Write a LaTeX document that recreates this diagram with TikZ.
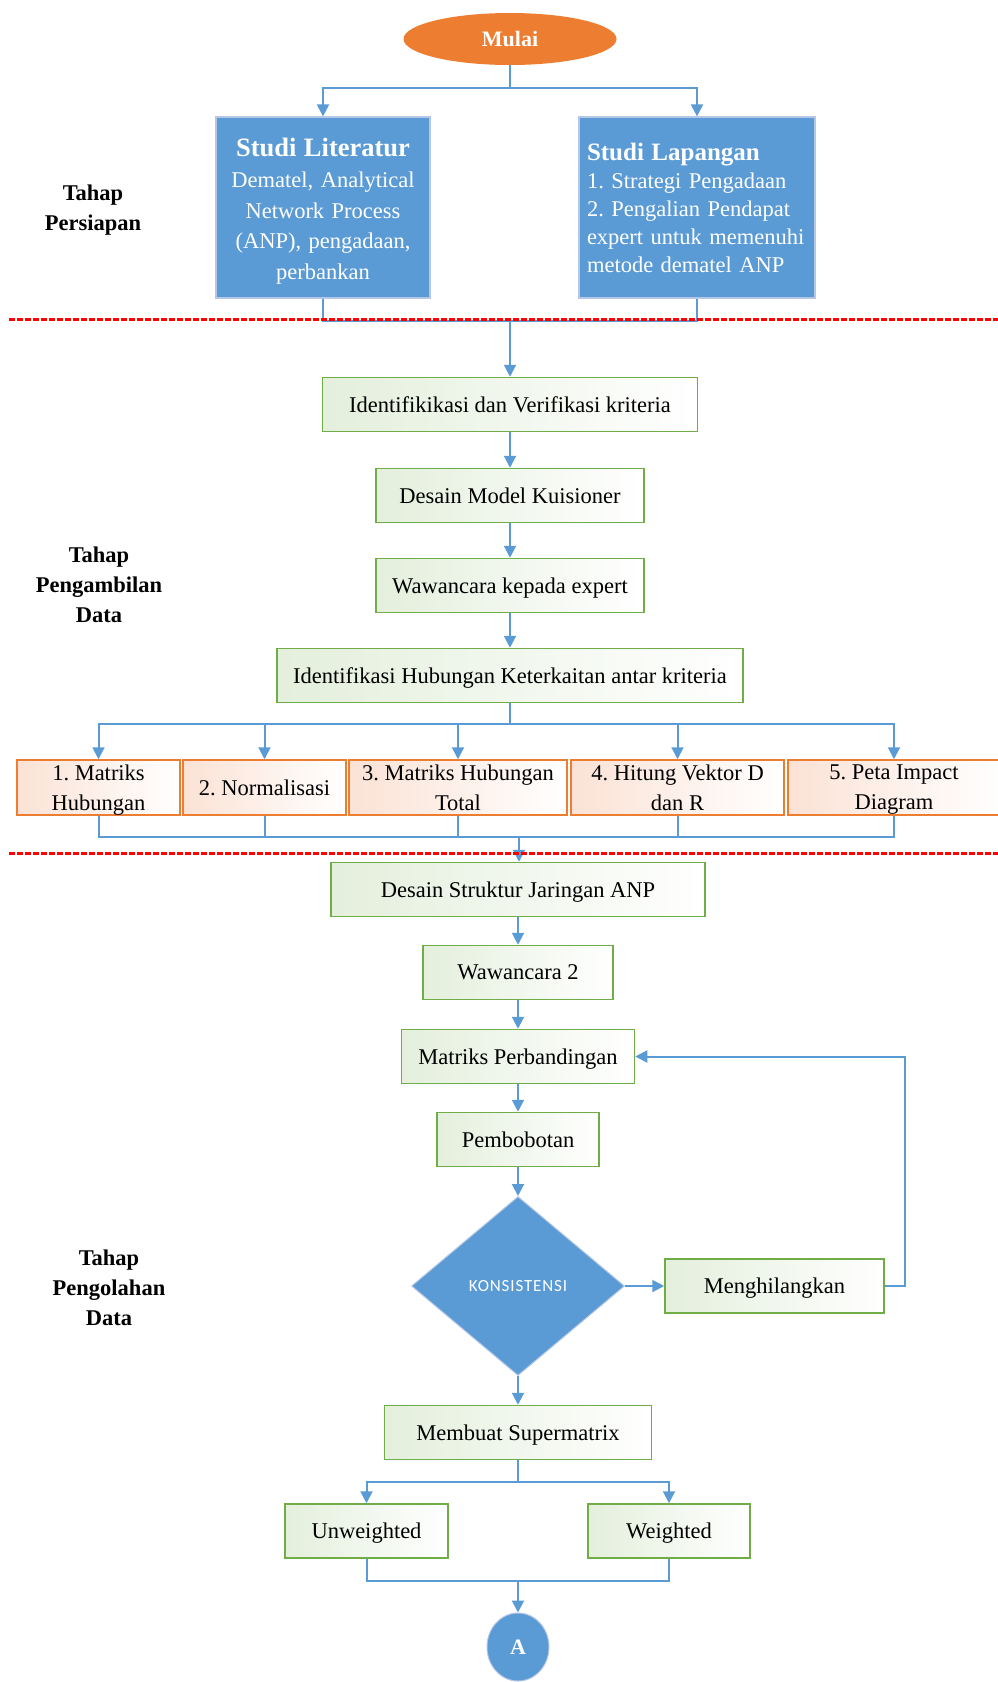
\documentclass[tikz,border=0pt]{standalone}
\usepackage{fontspec}
\setmainfont{Liberation Serif}
\newfontfamily\uisans{Carlito}[LetterSpace=5]
\usetikzlibrary{arrows.meta,shapes.geometric,calc}
\frenchspacing

\definecolor{flowblue}{HTML}{5B9BD5}
\definecolor{blueedge}{HTML}{B4C7E7}
\definecolor{startorange}{HTML}{ED7D31}
\definecolor{boxgreen}{HTML}{70AD47}
\definecolor{greenfill}{HTML}{E4EFDC}
\definecolor{stepfill}{HTML}{FBE2D5}
\definecolor{phasered}{HTML}{FF0000}

\begin{document}
\begin{tikzpicture}[x=1pt,y=-1pt,
  txt/.style={font=\fontsize{22.5}{30}\selectfont},
  bluebox/.style={draw=blueedge, line width=1.2pt, fill=flowblue, text=white, inner sep=7pt},
  greenbox/.style={draw=boxgreen, line width=1.5pt, left color=greenfill, right color=white,
    inner sep=0pt, minimum height=54pt, txt, align=center, text depth=0pt},
  stepbox/.style={draw=startorange, line width=1.5pt, left color=stepfill, right color=white,
    inner sep=0pt, minimum height=55pt, txt, align=center, text depth=0pt},
  phaselabel/.style={font=\fontsize{22.5}{30}\selectfont\bfseries, align=center},
  conn/.style={draw=flowblue, line width=2pt},
  arr/.style={-{Triangle[length=12pt,width=12pt]}},
  phaseline/.style={draw=phasered, line width=3pt, dash pattern=on 6pt off 2pt}
]
\useasboundingbox (0,0) rectangle (998,1682);

% ---------- Tahap Persiapan ----------
\node[ellipse, fill=startorange, inner sep=0pt, minimum width=213pt, minimum height=52pt,
  text=white, font=\fontsize{22}{26}\selectfont\bfseries] (mulai) at (510,39) {Mulai};

\node[bluebox, minimum height=181pt, text width=200pt, align=center,
  font=\fontsize{22.5}{30.5}\selectfont] (lit) at (323,207.5)
  {{\fontsize{26.5}{34}\selectfont\bfseries\rule{0pt}{25pt}Studi Literatur}\\[1pt]
   Dematel, Analytical\\Network Process\\(ANP), pengadaan,\\perbankan};

\node[bluebox, inner sep=8pt, minimum height=181pt, text width=220pt, align=left,
  font=\fontsize{22.5}{28}\selectfont] (lap) at (697,207.5)
  {{\fontsize{25}{30}\selectfont\bfseries Studi Lapangan}\\
   1. Strategi Pengadaan\\2. Pengalian Pendapat\\expert untuk memenuhi\\metode dematel ANP};

\node[phaselabel] (tahap1) at (93,210) {Tahap\\Persiapan};

% ---------- Tahap Pengambilan Data ----------
\node[greenbox, minimum width=375pt] (ident) at (510,404.5) {Identifikikasi dan Verifikasi kriteria};
\node[greenbox, minimum width=268pt] (desain) at (510,495.5) {Desain Model Kuisioner};
\node[greenbox, minimum width=268pt] (waw) at (510,585.5) {Wawancara kepada expert};
\node[greenbox, minimum width=466pt] (idh) at (510,675.5) {Identifikasi Hubungan Keterkaitan antar kriteria};

\node[stepbox, minimum width=163pt] (o1) at (98.5,787.5) {1. Matriks\\Hubungan};
\node[stepbox, minimum width=163pt] (o2) at (264.5,787.5) {2. Normalisasi};
\node[stepbox, minimum width=218pt] (o3) at (458,787.5) {3. Matriks Hubungan\\Total};
\node[stepbox, minimum width=213pt] (o4) at (677.5,787.5) {4. Hitung Vektor D\\dan R};
\node[stepbox, minimum width=212pt] (o5) at (894,787.5) {5. Peta Impact\\Diagram};

\node[phaselabel] (tahap2) at (99,585) {Tahap\\Pengambilan\\Data};

% ---------- Tahap Pengolahan Data ----------
\node[greenbox, minimum width=374pt] (dsj) at (518,889.5) {Desain Struktur Jaringan ANP};
\node[greenbox, minimum width=190pt] (w2) at (518,972.5) {Wawancara 2};
\node[greenbox, minimum width=233pt] (mp) at (518,1056.5) {Matriks Perbandingan};
\node[greenbox, minimum width=162pt] (pb) at (518,1139.5) {Pembobotan};
\node[diamond, fill=flowblue, draw=blueedge, line width=1pt, inner sep=0pt,
  minimum width=213pt, minimum height=179pt, text=white,
  font=\fontsize{17}{20}\uisans] (kon) at (518,1286) {KONSISTENSI};
\node[greenbox, minimum width=219pt] (mh) at (774.5,1286) {Menghilangkan};
\node[greenbox, minimum width=267pt] (msm) at (518,1432.5) {Membuat Supermatrix};
\node[greenbox, minimum width=163pt] (unw) at (366.5,1531) {Unweighted};
\node[greenbox, minimum width=162pt] (wtd) at (669,1531) {Weighted};
\node[ellipse, fill=flowblue, draw=blueedge, line width=1pt, inner sep=0pt,
  minimum width=62pt, minimum height=68pt, text=white,
  font=\fontsize{22}{26}\selectfont\bfseries] (ka) at (518,1647) {A};

\node[phaselabel] (tahap3) at (109,1288) {Tahap\\Pengolahan\\Data};

% ---------- connectors ----------
\coordinate (split1) at (510,88);
\draw[conn] (mulai.south) -- (split1);
\draw[conn,arr] (split1) -| (lit.north);
\draw[conn,arr] (split1) -| (lap.north);

\coordinate (join1) at (510,321);
\draw[conn] (lit.south) |- (join1);
\draw[conn] (lap.south) |- (join1);
\draw[conn,arr] (join1) -- (ident.north);

\draw[conn,arr] (ident.south) -- (desain.north);
\draw[conn,arr] (desain.south) -- (waw.north);
\draw[conn,arr] (waw.south) -- (idh.north);

\coordinate (split2) at (510,724);
\draw[conn] (idh.south) -- (split2);
\foreach \b in {o1,o2,o3,o4,o5}
  \draw[conn,arr] (split2) -| (\b.north);

\coordinate (join2) at (519,837);
\foreach \b in {o1,o2,o3,o4,o5}
  \draw[conn] (\b.south) |- (join2);
\draw[conn,arr] (join2) -- (dsj.north -| join2);

\draw[conn,arr] (dsj.south) -- (w2.north);
\draw[conn,arr] (w2.south) -- (mp.north);
\draw[conn,arr] (mp.south) -- (pb.north);
\draw[conn,arr] (pb.south) -- (kon.north);
\draw[conn,arr] (kon.east) -- (mh.west);
\draw[conn,arr] (mh.east) -- ++(20,0) |- (mp.east);
\draw[conn,arr] (kon.south) -- (msm.north);

\coordinate (split3) at (518,1482);
\draw[conn] (msm.south) -- (split3);
\draw[conn,arr] (split3) -| (unw.north);
\draw[conn,arr] (split3) -| (wtd.north);

\coordinate (join3) at (518,1581);
\draw[conn] (unw.south) |- (join3);
\draw[conn] (wtd.south) |- (join3);
\draw[conn,arr] (join3) -- (ka.north);

% ---------- phase separators ----------
\coordinate (sepAl) at (9,319);
\coordinate (sepAr) at (998,319);
\coordinate (sepBl) at (9,853);
\coordinate (sepBr) at (998,853);
\draw[phaseline] (sepAl) -- (sepAr);
\draw[phaseline] (sepBl) -- (sepBr);
\end{tikzpicture}
\end{document}
